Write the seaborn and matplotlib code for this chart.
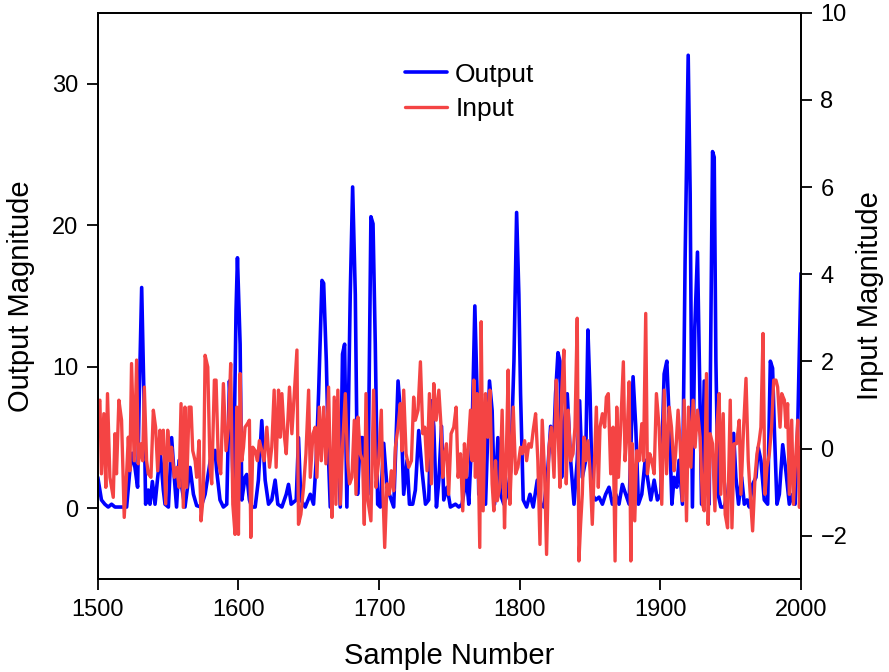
import matplotlib
matplotlib.use("Agg")
import matplotlib.pyplot as plt
import seaborn as sns

# ---- data ----
out_x = [1500, 1502.6, 1505, 1507.4, 1509.8, 1512.2, 1514.5, 1520.5, 1522.8, 1524.5, 1526.4, 1528.3, 1529.5,
         1531.2, 1532.8, 1534, 1535.9, 1537.1, 1538.8, 1540.7, 1542.6, 1544.5, 1546.6, 1547.8, 1550.2, 1552.5,
         1554.4, 1556, 1557.8, 1559.7, 1562, 1565.6, 1568, 1570.3, 1573.4, 1576.3, 1580, 1583.4, 1584.5, 1586.9,
         1589.3, 1591.7, 1593.6, 1595.2, 1596.4, 1598.3, 1599.3, 1601.2, 1602.4, 1604.7, 1605.9, 1607.8, 1609.5,
         1611.9, 1614.2, 1616.6, 1619, 1621.4, 1623.7, 1626.1, 1628, 1630.9, 1634, 1635.6, 1637.5, 1641.1,
         1642.7, 1644.4, 1647.5, 1651.1, 1653.4, 1655.3, 1657, 1659.4, 1660.6, 1662.5, 1664.1, 1665.3, 1667.6,
         1670, 1672.4, 1674, 1675.5, 1677.1, 1679.5, 1681.2, 1683.1, 1684.7, 1686.6, 1688.3, 1690.2, 1692.1,
         1694.2, 1695.7, 1697.3, 1699, 1700.9, 1703.3, 1705.6, 1708, 1710.4, 1713.5, 1715.9, 1717.5, 1719.9,
         1721.6, 1723.9, 1725.8, 1728.2, 1730.6, 1733, 1735.3, 1737.2, 1738.9, 1740.8, 1742.5, 1744.4, 1746,
         1748.4, 1750.7, 1754.3, 1756.7, 1759, 1762.1, 1763.8, 1766.2, 1768.1, 1769.7, 1770.9, 1773.3, 1775.7,
         1778.5, 1780.4, 1782.1, 1784.5, 1786.4, 1788.7, 1791.1, 1793.5, 1795.9, 1797.8, 1799.4, 1800.6, 1802.5,
         1804.9, 1807.3, 1809.6, 1812.5, 1814.9, 1817.2, 1819.6, 1822, 1823.9, 1825.5, 1827.2, 1828.6, 1829.8,
         1831.4, 1833.8, 1836.2, 1838.6, 1840.9, 1842.6, 1844.5, 1846.9, 1848.5, 1850, 1851.6, 1854, 1856.4,
         1858.8, 1861.1, 1863.5, 1865.9, 1868.3, 1870.6, 1873, 1875.4, 1877.8, 1880.6, 1882.5, 1884.4, 1886.8,
         1889.2, 1890.8, 1893.2, 1895.6, 1897.9, 1900.3, 1902.7, 1904.6, 1906.3, 1908.2, 1909.8, 1911.7, 1913.3,
         1915.7, 1917.6, 1919.8, 1921.2, 1922.8, 1924.5, 1926.4, 1928.1, 1929.3, 1931.2, 1933.1, 1934.7, 1935.9,
         1937.1, 1938.3, 1939.5, 1941.1, 1943, 1945.4, 1947.8, 1950.2, 1952.1, 1953.7, 1955.6, 1957.8, 1959.7,
         1961.6, 1963.2, 1965.6, 1968, 1969.6, 1971.5, 1973.9, 1976.3, 1978.2, 1979.8, 1981, 1982.9, 1984.6,
         1987, 1989.3, 1991.7, 1994.1, 1995.8, 1997.7, 2000]
out_y = [2.2, 0.6, 0.3, 0.1, 0.3, 0.1, 0.1, 0.1, 2.7, 3.9, 2.9, 1.5, 8.0,
         15.6, 8.0, 0.3, 1.3, 0.3, 1.9, 0.3, 2.2, 3.9, 1.3, 0.3, 0.1, 5.0,
         2.2, 0.1, 3.4, 1.5, 0.1, 2.9, 1.0, 0.2, 0.1, 1.0, 3.4, 4.1, 2.7, 0.6,
         0.1, 0.3, 9.0, 5.8, 0.8, 14.0, 17.7, 11.6, 0.6, 2.2, 2.4, 0.6, 0.1,
         0.1, 2.0, 6.2, 2.0, 0.3, 0.6, 2.0, 0.3, 0.1, 1.0, 1.7, 0.3, 0.6,
         5.0, 0.6, 0.1, 1.0, 0.3, 3.4, 8.1, 16.1, 15.9, 10.4, 3.4, 0.1, 3.4,
         7.6, 0.1, 10.9, 11.6, 0.1, 15.1, 22.7, 15.1, 1.0, 5.0, 5.0, 1.0, 1.0,
         20.6, 20.1, 11.6, 0.3, 0.1, 4.6, 1.5, 0.8, 0.1, 9.0, 5.8, 1.0, 3.4,
         0.3, 0.3, 1.3, 5.5, 2.6, 0.3, 0.6, 7.6, 5.8, 0.1, 2.0, 5.8, 0.6,
         1.5, 0.1, 0.3, 0.1, 0.3, 2.2, 0.3, 5.7, 14.3, 8.1, 1.0, 1.5, 0.3,
         9.0, 6.9, 0.3, 5.0, 1.0, 0.3, 1.0, 2.6, 10.4, 20.9, 15.1, 8.1, 0.6,
         0.1, 1.0, 0.1, 2.0, 0.3, 0.1, 2.2, 5.8, 3.9, 8.1, 11.0, 10.4, 2.2,
         5.8, 8.1, 3.4, 0.3, 3.4, 7.6, 2.2, 3.4, 12.6, 8.1, 1.0, 0.6, 0.8,
         0.3, 1.0, 1.5, 0.3, 1.0, 0.3, 1.7, 1.0, 0.3, 9.3, 5.8, 0.3, 1.0,
         3.4, 2.2, 0.6, 2.0, 0.6, 1.0, 9.5, 10.4, 6.2, 0.3, 2.2, 1.5, 3.4,
         0.3, 17.5, 32.0, 22.2, 0.1, 12.8, 18.1, 8.1, 0.3, 9.0, 3.4, 0.3, 12.8,
         25.2, 24.8, 10.4, 1.0, 0.1, 0.1, 1.0, 3.4, 5.3, 2.2, 0.3, 2.2, 0.3,
         0.6, 0.1, 1.7, 2.2, 4.3, 3.4, 0.6, 0.3, 10.4, 9.9, 5.8, 0.3, 1.0,
         4.5, 2.6, 0.3, 1.0, 0.3, 5.8, 16.6]

in_x = [1500, 1501.5, 1502.6, 1504.3, 1505.7, 1506.9, 1508.6, 1509.8, 1511, 1512.2, 1513.3, 1515, 1516.9,
        1518.8, 1520.5, 1521.7, 1522.8, 1524, 1525.9, 1527.6, 1528.8, 1530.7, 1531.9, 1533.1, 1534.7, 1535.9,
        1537.8, 1539.5, 1541.1, 1542.6, 1544.2, 1545.4, 1546.6, 1548.3, 1549.7, 1551.3, 1552.5, 1554.4, 1556.1,
        1557.8, 1559.2, 1560.8, 1562, 1563.2, 1564.9, 1566.3, 1567.5, 1569.2, 1570.3, 1572, 1573.4, 1575.1,
        1576.3, 1578.2, 1579.8, 1581, 1582.9, 1584.1, 1585.7, 1587.4, 1589.3, 1591.2, 1592.9, 1594.5, 1596,
        1597.6, 1598.8, 1600, 1601.2, 1602.4, 1603.6, 1604.7, 1606.4, 1607.8, 1608.8, 1610.2, 1611.9, 1613.5,
        1614.9, 1616.6, 1618.3, 1620.2, 1622.1, 1623.7, 1625.4, 1626.8, 1628.5, 1629.7, 1630.9, 1632.5, 1634,
        1636.3, 1638, 1639.7, 1641.6, 1642.7, 1644.4, 1646.3, 1648, 1649.9, 1651.1, 1653, 1654.6, 1655.8,
        1657.5, 1658.9, 1660.6, 1662.2, 1664.1, 1665.3, 1666.5, 1668.1, 1669.3, 1670.7, 1672.4, 1674.1, 1676,
        1677.6, 1679, 1680.7, 1682.4, 1683.6, 1685, 1686.6, 1688.3, 1689.5, 1690.7, 1692.1, 1694.2, 1696.1,
        1697.8, 1699.7, 1701.6, 1702.8, 1704, 1705.6, 1707.3, 1708.7, 1710.4, 1711.6, 1713.5, 1715.1, 1716.3,
        1717.5, 1719.2, 1721.1, 1723, 1724.6, 1725.8, 1727.7, 1729.4, 1731.1, 1732.5, 1734.1, 1735.8, 1737.2,
        1738.9, 1740.6, 1742.5, 1744.1, 1745.3, 1746, 1747.9, 1749.5, 1751.2, 1753.1, 1754.8, 1756.2, 1757.9,
        1759.5, 1760.7, 1762.1, 1763.8, 1765, 1766.2, 1767.4, 1768.5, 1769.7, 1770.9, 1771.6, 1772.6, 1774,
        1775.7, 1777.3, 1778.8, 1780.4, 1781.6, 1782.8, 1784, 1785.9, 1787.5, 1789.2, 1790.4, 1791.8, 1793,
        1794.2, 1795.4, 1797.1, 1798.7, 1800.6, 1801.8, 1803.5, 1804.9, 1806.5, 1808.2, 1809.6, 1811.3, 1812.9,
        1814.4, 1816, 1817.7, 1819.1, 1820.8, 1822.5, 1824.4, 1826, 1827.2, 1828.6, 1829.8, 1831.4, 1833.1,
        1834.5, 1836.2, 1837.9, 1839.3, 1840.9, 1842.1, 1843.3, 1844.5, 1845.7, 1846.9, 1848.5, 1850, 1851.6,
        1853.3, 1854.5, 1855.9, 1857.1, 1858.8, 1860.4, 1861.6, 1863, 1864.7, 1866.4, 1867.8, 1869, 1870.2,
        1871.8, 1873.7, 1874.9, 1876.6, 1877.8, 1879, 1880.1, 1881.8, 1883.2, 1884.9, 1886.8, 1888, 1889.6,
        1890.8, 1892.5, 1893.9, 1895.6, 1897.2, 1899.1, 1901, 1902.7, 1904.4, 1906.3, 1907.9, 1909.8, 1911,
        1912.6, 1914.1, 1915.7, 1916.9, 1918.6, 1920, 1921.7, 1923.3, 1924.7, 1926.4, 1928.3, 1930, 1931.2,
        1932.8, 1934, 1935.4, 1937.1, 1938.8, 1940.2, 1941.8, 1943, 1944.7, 1946.1, 1947.8, 1949.7, 1950.9,
        1952.5, 1954.2, 1956.1, 1957.3, 1959.2, 1960.9, 1962.5, 1963.9, 1965.6, 1967.3, 1968.7, 1970.3, 1971.5,
        1973, 1974.4, 1975.8, 1977.5, 1979.1, 1980.6, 1982.2, 1983.4, 1985.1, 1986.3, 1988.2, 1989.3, 1990.5,
        1991.7, 1993.4, 1994.6, 1996.5, 1997.7, 1998.9, 2000]
in_y = [1.03, 1.11, -0.58, 0.80, -0.89, 1.26, -0.66, -0.89, -1.12, 0.34, -0.58, 1.11, 0.65,
        -1.58, -0.58, 0.26, -0.51, 1.95, -0.28, 2.03, -0.35, 0.11, -0.28, 1.41, -0.28, -0.58,
        -0.66, 0.88, 0.49, -0.51, 0.42, -0.12, 0.42, -1.27, 0.42, -0.28, 0.03, -0.66, -0.43,
        -0.89, 1.03, -1.35, 0.95, -0.89, 0.95, 0.95, -0.05, -0.28, -0.66, 0.18, -1.66, -1.05,
        2.14, 1.87, -0.43, -0.81, 1.57, 1.57, -0.28, -0.58, 1.49, -0.05, 0.49, 1.95, -1.28,
        -1.97, 0.95, -1.97, 1.72, -0.28, 0.03, 0.49, 0.57, 0.65, -2.04, 0.03, -0.05, -0.28,
        0.18, -0.05, -0.28, 0.49, -0.43, 0.03, 1.34, -0.43, 1.34, 0.26, 1.26, 0.34, -0.12,
        1.41, 0.34, 1.26, 2.26, -1.74, -1.51, -0.89, -0.12, 1.34, -0.66, 0.34, 0.49, -0.66,
        0.95, -0.28, 0.95, -0.35, 1.41, -0.43, -1.58, 1.18, -1.28, 1.34, -1.28, 0.11, 1.26,
        -0.28, -0.81, -0.66, 0.65, -1.05, 0.72, -0.12, -0.28, -1.74, 1.26, -1.20, -1.66, 1.34,
        -0.89, -0.28, 0.88, -1.05, -2.27, -0.81, -1.05, -0.51, -0.97, 0.03, 0.49, 1.03, -0.05,
        1.34, -0.12, -0.43, -0.28, 1.18, 0.65, 0.88, 1.99, 0.34, 0.49, -0.51, 1.26, -0.81,
        1.49, 0.65, 1.34, 0.49, -0.66, -0.28, 0.11, -1.05, 0.34, 0.49, 0.95, -0.66, -0.12,
        -1.43, 0.11, -0.66, 0.26, 0.88, -0.28, 1.57, -0.66, 1.26, -0.97, -2.27, 2.91, -1.43,
        1.26, 0.26, 1.34, -0.81, -1.43, -0.28, -1.20, -0.89, 0.88, -1.82, -0.28, 1.80, -1.28,
        -0.28, 0.95, -0.58, -0.43, 0.03, -0.12, 0.18, -0.28, 0.11, 0.03, 0.42, 0.80, -0.28,
        -2.20, 0.65, -0.58, -2.43, 0.03, 0.49, -0.66, 1.57, 0.49, -0.89, 1.26, 2.26, -0.81,
        0.88, -0.28, -0.12, 0.49, 2.99, -2.58, -1.74, -1.05, 0.26, -0.28, 0.18, -0.51, -1.74,
        -0.12, 0.95, -0.89, 0.49, 0.80, 0.49, 1.18, 1.26, -0.58, 0.49, -2.58, 0.95, -0.66,
        0.49, 1.99, -0.28, 0.49, 1.53, -2.58, 0.11, -1.66, -0.05, -0.28, 0.57, -0.28, 3.10,
        -0.58, -0.12, -0.28, -0.58, 1.26, 0.49, -1.28, 1.34, -0.58, 0.95, 0.49, -0.51, -0.05,
        0.88, 0.11, -1.20, 1.11, -1.66, 0.95, -0.43, 1.11, 0.03, 0.88, 0.26, -1.28, -1.43,
        1.72, -1.74, 0.34, 0.11, -1.43, 0.49, 1.26, -1.05, 0.80, -1.51, -1.82, 1.11, -1.82,
        0.11, 0.11, 0.65, -1.05, 0.49, 1.61, -0.28, -1.05, -1.89, -0.66, -0.12, 0.18, 0.49,
        2.64, -1.05, -0.43, -0.12, 0.49, 1.57, 1.57, 1.41, 0.49, 1.26, 1.11, 0.49, 1.03,
        -1.05, 0.65, -1.28, -0.05, 0.65, -1.35, 0.03]

x_ticks = [1500, 1600, 1700, 1800, 1900, 2000]
left_ticks = [0, 10, 20, 30]
right_ticks = [-2, 0, 2, 4, 6, 8, 10]

# ---- style ----
sns.set_theme(style="white")
plt.rcParams["font.family"] = ["Liberation Sans", "DejaVu Sans"]

BLUE = "#0000FF"
RED = "#F44444"

fig, ax = plt.subplots(figsize=(8.89, 6.72), dpi=100)
fig.subplots_adjust(left=0.110, right=0.901, top=0.981, bottom=0.138)

sns.lineplot(x=out_x, y=out_y, ax=ax, color=BLUE, lw=2.6, sort=False,
             estimator=None, label="Output", legend=False)
ax2 = ax.twinx()
sns.lineplot(x=in_x, y=in_y, ax=ax2, color=RED, lw=2.4, sort=False,
             estimator=None, label="Input", legend=False)

ax.set_xlim(1500, 2000)
ax.set_ylim(-5, 35)
ax2.set_ylim(-3, 10)
ax.set_xticks(x_ticks)
ax.set_yticks(left_ticks)
ax2.set_yticks(right_ticks)

for a in (ax, ax2):
    for s in a.spines.values():
        s.set_color("black")
        s.set_linewidth(1.3)
    a.tick_params(direction="out", length=8, width=1.3, color="black",
                  labelsize=17, labelcolor="black", pad=6)
ax.tick_params(axis="x", bottom=True, top=False)
ax.tick_params(axis="y", left=True, right=False)
ax2.tick_params(axis="y", right=True, left=False)

ax.set_xlabel("Sample Number", fontsize=21, color="black", labelpad=15)
ax.set_ylabel("Output Magnitude", fontsize=21, color="black", labelpad=12)
ax2.set_ylabel("Input Magnitude", fontsize=21, color="black", labelpad=6)

h1, l1 = ax.get_legend_handles_labels()
h2, l2 = ax2.get_legend_handles_labels()
leg = ax2.legend(h1 + h2, l1 + l2, loc="upper left", bbox_to_anchor=(0.437, 0.912),
                 frameon=False, fontsize=19, handlelength=1.6, handletextpad=0.3,
                 labelspacing=0.4, borderpad=0, borderaxespad=0)
for t in leg.get_texts():
    t.set_color("black")

fig.savefig("out.png", dpi=100)
